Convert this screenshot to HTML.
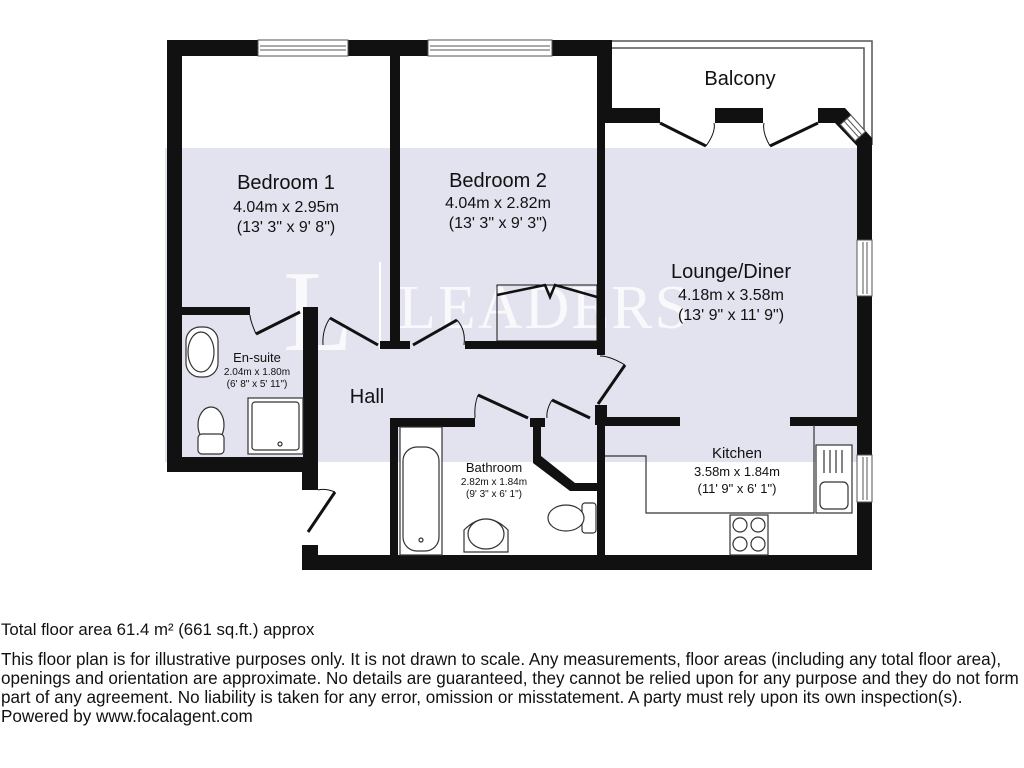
<!DOCTYPE html>
<html><head><meta charset="utf-8"><style>
html,body{margin:0;padding:0;background:#fff;}
body{width:1024px;height:768px;position:relative;overflow:hidden;font-family:"Liberation Sans",sans-serif;}
.t{position:absolute;left:1px;font-size:17.1px;color:#111;white-space:nowrap;line-height:19px;}
</style></head><body>
<svg width="1024" height="600" style="position:absolute;left:0;top:0" xmlns="http://www.w3.org/2000/svg" font-family="Liberation Sans, sans-serif">
<rect x="165" y="148" width="695" height="314" fill="#e3e2ef"/>
<text x="283" y="350" font-family="Liberation Serif, serif" font-size="115" fill="#fff" opacity="0.8">L</text>
<line x1="380" y1="262" x2="380" y2="350" stroke="#fff" stroke-width="2"/>
<text x="398" y="328" font-family="Liberation Serif, serif" font-size="62" fill="#fff" opacity="0.8" letter-spacing="2">LEADERS</text>
<path d="M612 41 H872 V145" fill="none" stroke="#555" stroke-width="1.5"/>
<path d="M612 48 H864 V140" fill="none" stroke="#555" stroke-width="1.5"/>
<g fill="#111">
<rect x="167" y="40" width="445" height="16"/>
<rect x="167" y="40" width="15" height="422"/>
<rect x="390" y="40" width="10" height="309"/>
<rect x="597" y="40" width="15" height="83"/>
<rect x="597" y="110" width="8" height="245"/>
<rect x="597" y="108" width="63" height="15"/>
<rect x="715" y="108" width="48" height="15"/>
<rect x="818" y="108" width="20" height="15"/>
<polygon points="835,108 845,108 872,138 872,152 857,152 857,146 835,123"/>
<rect x="857" y="145" width="15" height="425"/>
<rect x="182" y="307" width="68" height="8"/>
<rect x="303" y="307" width="15" height="165"/>
<rect x="167" y="457" width="151" height="15"/>
<rect x="380" y="341" width="30" height="8"/>
<rect x="465" y="341" width="135" height="8"/>
<rect x="302" y="462" width="16" height="28"/>
<rect x="302" y="545" width="16" height="25"/>
<rect x="302" y="555" width="570" height="15"/>
<rect x="390" y="418" width="85" height="9"/>
<rect x="390" y="418" width="8" height="140"/>
<rect x="530" y="418" width="15" height="9"/>
<rect x="533" y="418" width="8" height="42"/>
<polygon points="533,456 541,456 575,483 597,483 597,491 570,491 533,463"/>
<rect x="597" y="410" width="8" height="150"/>
<rect x="595" y="405" width="12" height="20"/>
<rect x="597" y="417" width="83" height="9"/>
<rect x="790" y="417" width="70" height="9"/>
</g>
<g fill="#fff" stroke="#555" stroke-width="1">
<rect x="258" y="40" width="90" height="16"/><line x1="260" y1="46" x2="346" y2="46"/><line x1="260" y1="50" x2="346" y2="50"/>
<rect x="428" y="40" width="124" height="16"/><line x1="430" y1="46" x2="550" y2="46"/><line x1="430" y1="50" x2="550" y2="50"/>
<rect x="857" y="240" width="15" height="56"/><line x1="863" y1="242" x2="863" y2="294"/><line x1="867" y1="242" x2="867" y2="294"/>
<rect x="857" y="455" width="15" height="47"/><line x1="863" y1="457" x2="863" y2="500"/><line x1="867" y1="457" x2="867" y2="500"/>
<g transform="translate(853,128) rotate(48)">
<rect x="-11" y="-7" width="22" height="14"/>
<line x1="-11" y1="-2" x2="11" y2="-2"/><line x1="-11" y1="2" x2="11" y2="2"/>
</g>
</g>
<g fill="none" stroke="#111" stroke-width="3">
<line x1="660" y1="123" x2="706" y2="146"/>
<line x1="818" y1="123" x2="770" y2="146"/>
<line x1="256" y1="334" x2="300" y2="312"/>
<line x1="330" y1="318" x2="378" y2="345"/>
<line x1="413" y1="345" x2="457" y2="320"/>
<line x1="478" y1="395" x2="528" y2="418"/>
<line x1="552" y1="400" x2="590" y2="418"/>
<line x1="598" y1="404" x2="625" y2="365"/>
<line x1="308" y1="532" x2="335" y2="492"/>
</g>
<g fill="none" stroke="#111" stroke-width="1">
<path d="M706 146 Q716 132 714 123"/>
<path d="M770 146 Q762 132 764 123"/>
<path d="M256 334 Q250 320 250 315"/>
<path d="M330 318 Q322 330 323 345"/>
<path d="M457 320 Q466 330 464 345"/>
<path d="M478 395 Q474 405 475 418"/>
<path d="M552 400 Q546 410 547 418"/>
<path d="M625 365 Q610 356 600 356"/>
<path d="M335 492 Q325 488 318 490"/>
<rect x="497" y="285" width="100" height="56"/>
</g>
<g fill="none" stroke="#111" stroke-width="2.5">
<polyline points="497,295 545,285 550,297 555,285 597,297"/>
</g>
<g fill="#fff" stroke="#333" stroke-width="1.2">
<rect x="186" y="327" width="32" height="50" rx="14"/><ellipse cx="201" cy="352" rx="13" ry="20"/>
<rect x="248" y="398" width="55" height="56"/><rect x="252" y="402" width="47" height="48" rx="3"/><circle cx="280" cy="444" r="2"/>
<ellipse cx="211" cy="425" rx="13" ry="18"/><rect x="198" y="434" width="26" height="20" rx="4"/>
<rect x="400" y="427" width="42" height="128"/><rect x="403" y="447" width="36" height="104" rx="14"/><circle cx="421" cy="540" r="2"/>
<path d="M464 552 V530 Q486 508 508 530 V552 Z"/><ellipse cx="486" cy="534" rx="18" ry="15"/>
<rect x="582" y="503" width="14" height="30" rx="3"/><ellipse cx="566" cy="518" rx="18" ry="13"/>
<polyline points="605,456 646,456 646,513 814,513 814,425" fill="none"/>
<rect x="816" y="445" width="36" height="68"/><rect x="820" y="482" width="28" height="27" rx="5"/>
<line x1="824" y1="450" x2="824" y2="473"/><line x1="830" y1="450" x2="830" y2="473"/><line x1="836" y1="450" x2="836" y2="473"/><line x1="842" y1="450" x2="842" y2="473"/>
<rect x="730" y="515" width="38" height="40"/>
<circle cx="740" cy="525" r="7"/><circle cx="758" cy="525" r="7"/><circle cx="740" cy="544" r="7"/><circle cx="758" cy="544" r="7"/>
</g>
<g fill="#111" text-anchor="middle">
<text x="740" y="85" font-size="20">Balcony</text>
<text x="286" y="189" font-size="20">Bedroom 1</text>
<text x="286" y="212" font-size="16">4.04m x 2.95m</text>
<text x="286" y="232" font-size="16">(13' 3" x 9' 8")</text>
<text x="498" y="187" font-size="20">Bedroom 2</text>
<text x="498" y="208" font-size="16">4.04m x 2.82m</text>
<text x="498" y="228" font-size="16">(13' 3" x 9' 3")</text>
<text x="731" y="278" font-size="20">Lounge/Diner</text>
<text x="731" y="300" font-size="16">4.18m x 3.58m</text>
<text x="731" y="320" font-size="16">(13' 9" x 11' 9")</text>
<text x="257" y="362" font-size="13">En-suite</text>
<text x="257" y="375" font-size="10">2.04m x 1.80m</text>
<text x="257" y="387" font-size="10">(6' 8" x 5' 11")</text>
<text x="367" y="403" font-size="20">Hall</text>
<text x="494" y="472" font-size="13">Bathroom</text>
<text x="494" y="485" font-size="10">2.82m x 1.84m</text>
<text x="494" y="497" font-size="10">(9' 3" x 6' 1")</text>
<text x="737" y="458" font-size="15">Kitchen</text>
<text x="737" y="476" font-size="13">3.58m x 1.84m</text>
<text x="737" y="493" font-size="13">(11' 9" x 6' 1")</text>
</g>
</svg>
<div class="t" style="top:620px;font-size:16.8px">Total floor area 61.4 m² (661 sq.ft.) approx</div>
<div class="t" style="top:650px">This floor plan is for illustrative purposes only. It is not drawn to scale. Any measurements, floor areas (including any total floor area),</div>
<div class="t" style="top:669px">openings and orientation are approximate. No details are guaranteed, they cannot be relied upon for any purpose and they do not form</div>
<div class="t" style="top:688px">part of any agreement. No liability is taken for any error, omission or misstatement. A party must rely upon its own inspection(s).</div>
<div class="t" style="top:707px">Powered by www.focalagent.com</div>
</body></html>
